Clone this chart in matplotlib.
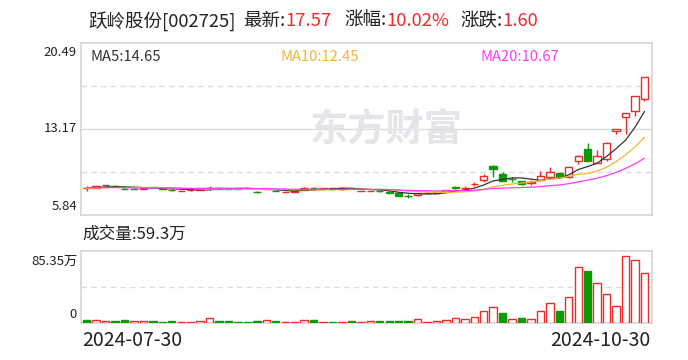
import matplotlib
matplotlib.use('Agg')
import matplotlib.pyplot as plt
from matplotlib.patches import Rectangle
import numpy as np

plt.rcParams['font.family'] = ['Noto Sans CJK SC', 'DejaVu Sans']

# ---------------- data ----------------
dates = ['2024-07-30', '2024-10-30']
opens = [8.16, 8.14, 8.36, 8.29, 8.09, 8.08, 8.09, 8.20, 8.10, 7.98,
         7.88, 7.93, 7.98, 8.03, 8.14, 8.10, 8.10, 8.12, 7.80, 8.07,
         7.90, 7.80, 7.84, 7.98, 8.16, 8.03, 8.14, 8.03, 8.12, 7.88,
         7.88, 7.88, 7.84, 7.75, 7.50, 7.52, 7.70, 7.72, 7.83, 8.19,
         8.16, 8.45, 8.83, 10.05, 9.30, 8.90, 8.72, 8.53, 8.83, 9.10,
         9.38, 9.10, 10.45, 11.42, 10.28, 10.62, 13.02, 14.20, 14.72, 15.75]
highs = [8.31, 8.33, 8.39, 8.39, 8.28, 8.10, 8.12, 8.23, 8.13, 8.02,
         7.92, 7.98, 8.04, 8.31, 8.25, 8.12, 8.12, 8.14, 7.92, 8.14,
         7.93, 7.84, 7.87, 8.25, 8.25, 8.16, 8.16, 8.16, 8.14, 7.91,
         7.92, 7.90, 7.86, 7.77, 7.61, 7.72, 7.76, 7.82, 8.00, 8.34,
         8.30, 8.62, 9.30, 10.07, 9.50, 9.05, 8.75, 8.81, 9.58, 9.89,
         9.45, 9.95, 10.95, 12.00, 11.40, 12.02, 13.19, 14.51, 15.97, 17.57]
lows = [7.92, 8.12, 8.35, 8.25, 8.03, 8.03, 8.06, 8.17, 8.06, 7.92,
        7.86, 7.91, 7.96, 8.00, 8.08, 8.06, 8.07, 8.09, 7.74, 8.03,
        7.85, 7.78, 7.82, 7.96, 8.10, 8.01, 8.01, 8.01, 8.08, 7.86,
        7.86, 7.84, 7.74, 7.48, 7.33, 7.50, 7.66, 7.70, 7.80, 8.02,
        8.02, 8.35, 8.69, 9.10, 8.74, 8.66, 8.38, 8.39, 8.76, 9.05,
        9.05, 9.00, 10.20, 10.40, 10.25, 10.42, 12.72, 12.72, 14.30, 15.55]
closes = [8.18, 8.31, 8.38, 8.27, 8.05, 8.05, 8.11, 8.19, 8.08, 7.93,
          7.90, 7.95, 8.02, 8.17, 8.09, 8.09, 8.09, 8.11, 7.76, 8.09,
          7.88, 7.81, 7.86, 8.17, 8.13, 8.14, 8.03, 8.14, 8.11, 7.89,
          7.90, 7.85, 7.75, 7.50, 7.47, 7.70, 7.73, 7.80, 7.98, 8.17,
          8.18, 8.50, 9.16, 9.72, 8.77, 8.88, 8.45, 8.67, 9.16, 9.47,
          9.10, 9.92, 10.90, 10.45, 10.90, 11.99, 13.19, 14.51, 15.97, 17.57]
# closes of the 19 sessions before the window (needed for the moving averages)
prev_closes = [8.25, 8.20, 8.15, 8.22, 8.30, 8.28, 8.18, 8.12, 8.20, 8.25,
               8.05, 8.00, 8.10, 8.08, 8.02, 8.12, 8.20, 8.15, 8.10]
# volume in 万 shares
volumes = [3.5, 3.5, 2.5, 2.5, 3.5, 2.5, 2.5, 2.5, 1.5, 2.5,
           1.5, 1.5, 2.5, 6.0, 2.5, 2.5, 1.5, 1.5, 2.5, 3.5,
           2.5, 1.5, 1.5, 3.5, 3.5, 1.5, 1.5, 1.5, 2.5, 1.5,
           2.5, 2.5, 2.5, 2.5, 2.5, 4.5, 1.5, 2.5, 3.8, 5.5,
           4.5, 7.7, 14.8, 18.4, 11.7, 5.1, 5.5, 5.1, 14.6, 23.3,
           13.8, 31.2, 66.0, 61.2, 47.8, 34.0, 20.5, 79.0, 74.3, 59.3]
vol_dir = ['g', 'r', 'r', 'g', 'g', 'r', 'r', 'g', 'g', 'g',
           'r', 'r', 'r', 'r', 'g', 'g', 'g', 'g', 'g', 'r',
           'g', 'r', 'r', 'r', 'g', 'r', 'g', 'r', 'g', 'r',
           'r', 'g', 'g', 'g', 'g', 'r', 'r', 'r', 'r', 'r',
           'r', 'r', 'r', 'r', 'g', 'r', 'g', 'r', 'r', 'r',
           'g', 'r', 'r', 'g', 'r', 'r', 'r', 'r', 'r', 'r']
price_ticks = [20.49, 13.17, 5.84]
vol_max = 85.35
stock_name = '跃岭股份[002725]'
latest, pct, change, last_vol = '17.57', '10.02%', '1.60', '59.3万'

# ---------------- style ----------------
RED = '#f02a2a'
GREEN = '#0a9a0a'
TXT = '#222222'
MA_COLORS = ['#333333', '#f5b335', '#ff3cff']
FRAME = '#d2d2d6'
GRID = '#dcdcdc'

W, H = 688, 360
fig = plt.figure(figsize=(W / 100, H / 100), dpi=100)


def px_rect(l, t, r, b):
    return [l / W, 1 - b / H, (r - l) / W, (b - t) / H]


axp = fig.add_axes(px_rect(81, 43, 652, 215))
axv = fig.add_axes(px_rect(81, 251, 652, 323))

n = len(closes)
bw = 0.78

for ax in (axp, axv):
    ax.set_xlim(-0.6, n - 0.2)
    ax.set_xticks([])
    ax.set_yticks([])
    for sp in ax.spines.values():
        sp.set_color(FRAME)
        sp.set_linewidth(1.1)

axp.set_ylim(price_ticks[2], price_ticks[0])
axv.set_ylim(0, vol_max)

# grid lines
p_top, p_mid, p_bot = price_ticks
axp.axhline(p_mid, color=GRID, lw=1.0, zorder=0)
axp.axhline((p_top + p_mid) / 2, color=GRID, lw=1.0, ls=(0, (4, 3)), zorder=0)
axp.axhline((p_bot + p_mid) / 2, color=GRID, lw=1.0, ls=(0, (4, 3)), zorder=0)
axv.axhline(vol_max / 2, color=GRID, lw=1.0, ls=(0, (4, 3)), zorder=0)

# watermark
axp.text(0.401, 0.50, '东方财富', transform=axp.transAxes, fontsize=27.5,
         fontweight='bold', color='#e4e4e9', ha='left', va='center', zorder=0)

# candles
for i in range(n):
    o, h, l, c = opens[i], highs[i], lows[i], closes[i]
    top, bot = max(o, c), min(o, c)
    bh = max(top - bot, 0.012)
    if c >= o:
        axp.add_patch(Rectangle((i - bw / 2, bot), bw, bh, facecolor='white',
                                edgecolor=RED, lw=1.0, zorder=3))
        axp.vlines(i, top, h, color=RED, lw=1.0, zorder=2)
        axp.vlines(i, l, bot, color=RED, lw=1.0, zorder=2)
    else:
        axp.vlines(i, l, h, color=GREEN, lw=1.0, zorder=2)
        axp.add_patch(Rectangle((i - bw / 2, bot), bw, bh, facecolor=GREEN,
                                edgecolor=GREEN, lw=1.0, zorder=3))

# moving averages
full = np.array(prev_closes + closes)
off = len(prev_closes)
for k, col in zip((5, 10, 20), MA_COLORS):
    ma = [full[off + i - k + 1: off + i + 1].mean() for i in range(n)]
    axp.plot(np.arange(n), ma, color=col, lw=0.9, zorder=4)

# volume bars
for i in range(n):
    if vol_dir[i] == 'r':
        axv.add_patch(Rectangle((i - bw / 2, 0), bw, volumes[i], facecolor='white',
                                edgecolor=RED, lw=1.0, zorder=3))
    else:
        axv.add_patch(Rectangle((i - bw / 2, 0), bw, volumes[i], facecolor=GREEN,
                                edgecolor=GREEN, lw=1.0, zorder=3))


# ---------------- texts ----------------
def ftext(x, y, s, **kw):
    return fig.text(x / W, 1 - y / H, s, **kw)


renderer = fig.canvas.get_renderer()


def seq_text(x0, y, parts, size):
    x = x0
    for s, col in parts:
        if s is None:
            x += col
            continue
        t = ftext(x, y, s, color=col, fontsize=size, ha='left', va='center')
        x += t.get_window_extent(renderer=renderer).width


seq_text(88, 21, [(stock_name, TXT), (None, 8), ('最新:', TXT), (latest, RED),
                  (None, 12), ('涨幅:', TXT), (pct, RED), (None, 11),
                  ('涨跌:', TXT), (change, RED)], 13.3)

ma_vals = []
for k in (5, 10, 20):
    ma_vals.append(full[-k:].mean())
ftext(90, 57, 'MA5:%.2f' % ma_vals[0], color=MA_COLORS[0], fontsize=10.6, va='center')
ftext(280, 57, 'MA10:%.2f' % ma_vals[1], color=MA_COLORS[1], fontsize=10.6, va='center')
ftext(481, 57, 'MA20:%.2f' % ma_vals[2], color=MA_COLORS[2], fontsize=10.6, va='center')

ftext(77, 52, '%.2f' % price_ticks[0], color=TXT, fontsize=9.5, ha='right', va='center')
ftext(77, 128, '%.2f' % price_ticks[1], color=TXT, fontsize=9.5, ha='right', va='center')
ftext(77, 206, '%.2f' % price_ticks[2], color=TXT, fontsize=9.5, ha='right', va='center')

ftext(82, 234, '成交量:' + last_vol, color=TXT, fontsize=12, ha='left', va='center')
ftext(78, 261, '%.2f万' % vol_max, color=TXT, fontsize=9.5, ha='right', va='center')
ftext(77, 315, '0', color=TXT, fontsize=9.5, ha='right', va='center')

ftext(82, 341, dates[0], color=TXT, fontsize=14, ha='left', va='center')
ftext(650, 341, dates[1], color=TXT, fontsize=14, ha='right', va='center')

fig.savefig('out.png', dpi=100)
